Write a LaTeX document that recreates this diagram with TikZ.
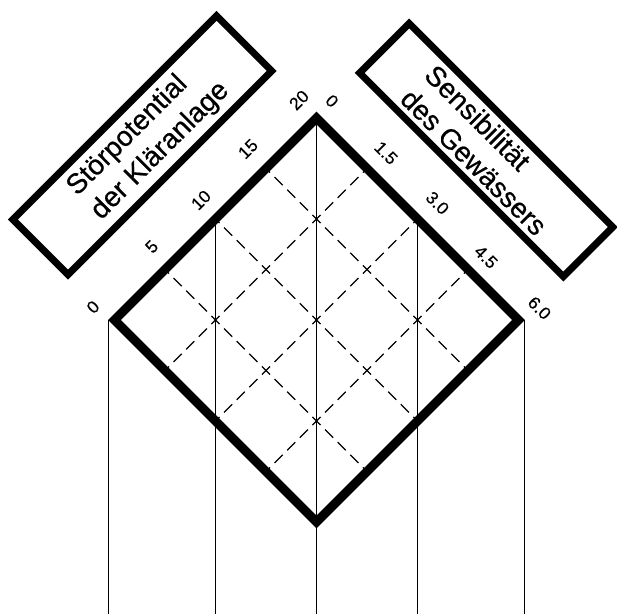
\documentclass[tikz,border=0pt]{standalone}
\usepackage{fontspec}
\setmainfont{Liberation Sans}
\newfontfamily\scanfont{Liberation Sans}[FakeBold=0.5]
\usetikzlibrary{calc}
\begin{document}
\begin{tikzpicture}[x=1pt,y=-1pt,
  frame/.style={draw=black, line width=9pt, line join=miter},
  vline/.style={draw=black, line width=1.1pt},
  gridline/.style={draw=black, line width=1.2pt, dash pattern=on 11.5pt off 6.35pt, dash phase=5.75pt},
  titlebox/.style={draw=black, line width=7pt, inner sep=0pt},
  titletext/.style={inner sep=0pt, align=left, font=\scanfont\fontsize{28}{34}\selectfont},
  tick/.style={inner sep=0pt, font=\scanfont\fontsize{17.5}{20}\selectfont}]
\useasboundingbox (0,0) rectangle (617,614);
% diamond vertices (centre line of the thick border)
\coordinate (L) at (114.5,320);
\coordinate (T) at (316.5,118);
\coordinate (R) at (518.5,320);
\coordinate (B) at (316.5,522);
\coordinate (OL) at (108.1,320);
\coordinate (OR) at (524.9,320);
\coordinate (M1) at ($(L)!0.5!(T)$);
\coordinate (M2) at ($(T)!0.5!(R)$);
\coordinate (Bot) at (0,614);
% vertical lines
\draw[vline] (OL) -- (OL |- Bot);
\draw[vline] (M1) -- (M1 |- Bot);
\draw[vline] (T) -- (T |- Bot);
\draw[vline] (M2) -- (M2 |- Bot);
\draw[vline] (OR) -- (OR |- Bot);
% dashed grid
\foreach \k in {0.25,0.5,0.75}{
  \draw[gridline] ($(L)!\k!(T)$) -- ($(B)!\k!(R)$);
  \draw[gridline] ($(L)!\k!(B)$) -- ($(T)!\k!(R)$);
}
% thick diamond
\draw[frame] (L) -- (T) -- (R) -- (B) -- cycle;
% title boxes
\node[titlebox, rotate=45, minimum width=288pt, minimum height=78pt] (left box) at (142.3,145.2) {};
\node[titletext, rotate=45] (left text) at (148.5,139) {St\"orpotential\\der Kl\"aranlage};
\node[titlebox, rotate=-45, minimum width=288pt, minimum height=70pt] (right box) at (486.2,150) {};
\node[titletext, rotate=-45] (right text) at (486.2,150) {Sensibilit\"at\\des Gew\"assers};
% tick labels, left scale
\node[tick, rotate=45] (l0) at (93,307) {0};
\node[tick, rotate=45] (l1) at (151.7,246.7) {5};
\node[tick, rotate=45] (l2) at (201,200) {10};
\node[tick, rotate=45] (l3) at (248,149) {15};
\node[tick, rotate=45] (l4) at (299,100) {20};
% tick labels, right scale
\node[tick, rotate=-45] (r0) at (332,101) {0};
\node[tick, rotate=-45] (r1) at (386,153) {1.5};
\node[tick, rotate=-45] (r2) at (437.5,203) {3.0};
\node[tick, rotate=-45] (r3) at (486,257) {4.5};
\node[tick, rotate=-45] (r4) at (539.5,308) {6.0};
\end{tikzpicture}
\end{document}
